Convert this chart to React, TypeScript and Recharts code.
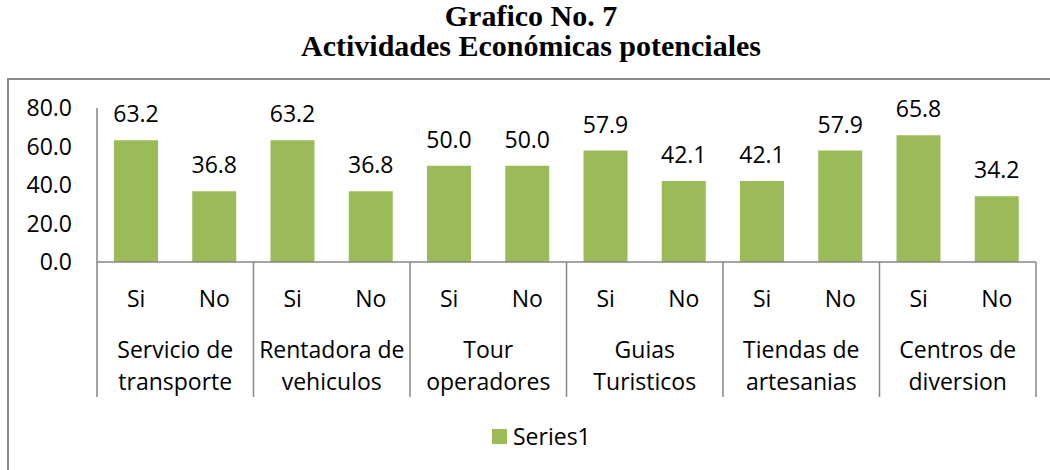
import React from 'react';
import { BarChart, Bar, XAxis, YAxis, LabelList, Legend } from 'recharts';

const groups = [
  'Servicio de\ntransporte',
  'Rentadora de\nvehiculos',
  'Tour\noperadores',
  'Guias\nTuristicos',
  'Tiendas de\nartesanias',
  'Centros de\ndiversion',
];
const answers = ['Si', 'No'];
const values = [63.2, 36.8, 63.2, 36.8, 50.0, 50.0, 57.9, 42.1, 42.1, 57.9, 65.8, 34.2];
const yTicks = [0, 20, 40, 60, 80];
const seriesName = 'Series1';
const titleLines = ['Grafico No. 7', 'Actividades Económicas potenciales'];

const data = values.map((v, i) => ({
  key: String(i),
  answer: answers[i % 2],
  group: groups[Math.floor(i / 2)],
  value: v,
}));

const W = 1050;
const H = 470;
const M = { top: 108, right: 14, bottom: 68, left: 0 };
const Y_W = 97;
const X_H = 140;
const PLOT_W = W - M.left - M.right - Y_W;
const FONT = '"Open Sans", sans-serif';
const GREEN = '#9BBB59';
const AXIS = '#868686';

const GroupTick = (props: any) => {
  const { x, y, index } = props;
  const slot = PLOT_W / data.length;
  const d = data[index];
  if (!d) return null;
  const lines = d.group.split('\n');
  const first = index % 2 === 0;
  const last = index === data.length - 1;
  const ts = { fontFamily: FONT, fontSize: 23, fill: '#000' };
  return (
    <g>
      <text x={x} y={y + 45} textAnchor="middle" {...ts}>{d.answer}</text>
      {first && (
        <g>
          <line x1={x - slot / 2} x2={x - slot / 2} y1={y} y2={y + 135} stroke={AXIS} strokeWidth={1.5} />
          <text x={x + slot / 2} y={y + 96} textAnchor="middle" {...ts}>{lines[0]}</text>
          <text x={x + slot / 2} y={y + 128} textAnchor="middle" {...ts}>{lines[1]}</text>
        </g>
      )}
      {last && (
        <line x1={x + slot / 2} x2={x + slot / 2} y1={y} y2={y + 135} stroke={AXIS} strokeWidth={1.5} />
      )}
    </g>
  );
};

const LegendContent = () => (
  <div style={{ display: 'flex', alignItems: 'center', fontFamily: FONT, fontSize: 23, color: '#000' }}>
    <span style={{ display: 'inline-block', width: 15, height: 15, background: GREEN, marginRight: 6 }} />
    <span>{seriesName}</span>
  </div>
);

export default function App() {
  return (
    <div style={{ position: 'absolute', left: 0, top: 0, width: W, height: H, overflow: 'hidden', background: '#fff' }}>
      <div
        style={{
          position: 'absolute',
          left: 7,
          top: 78,
          width: 1100,
          height: 600,
          border: '2px solid #8a8a8a',
          boxSizing: 'border-box',
        }}
      />
      <div
        style={{
          position: 'absolute',
          left: 0,
          top: 1,
          width: 1062,
          textAlign: 'center',
          fontFamily: '"Liberation Serif", "Times New Roman", serif',
          fontWeight: 'bold',
          fontSize: 30,
          lineHeight: '30px',
          color: '#000',
        }}
      >
        <div>{titleLines[0]}</div>
        <div>{titleLines[1]}</div>
      </div>
      <div style={{ position: 'absolute', left: 0, top: 0 }}>
        <BarChart width={W} height={H} data={data} margin={M} barSize={44}>
          <YAxis
            width={Y_W}
            domain={[0, 80]}
            ticks={yTicks}
            interval={0}
            tickFormatter={(v: number) => v.toFixed(1)}
            axisLine={{ stroke: AXIS, strokeWidth: 1.5 }}
            tickLine={false}
            tickSize={0}
            tickMargin={25}
            tick={{ fontFamily: FONT, fontSize: 23, fill: '#000' }}
          />
          <XAxis
            dataKey="key"
            height={X_H}
            interval={0}
            axisLine={{ stroke: AXIS, strokeWidth: 1.5 }}
            tickLine={false}
            tickSize={0}
            tickMargin={0}
            tick={<GroupTick />}
          />
          <Legend
            layout="horizontal"
            verticalAlign="middle"
            align="center"
            content={<LegendContent />}
            wrapperStyle={{ position: 'absolute', left: 492, top: 420, width: 'auto' }}
          />
          <Bar dataKey="value" name={seriesName} fill={GREEN} isAnimationActive={false}>
            <LabelList
              dataKey="value"
              position="top"
              offset={18}
              formatter={(v: number) => v.toFixed(1)}
              style={{ fontFamily: FONT, fontSize: 23, fill: '#000' }}
            />
          </Bar>
        </BarChart>
      </div>
    </div>
  );
}
